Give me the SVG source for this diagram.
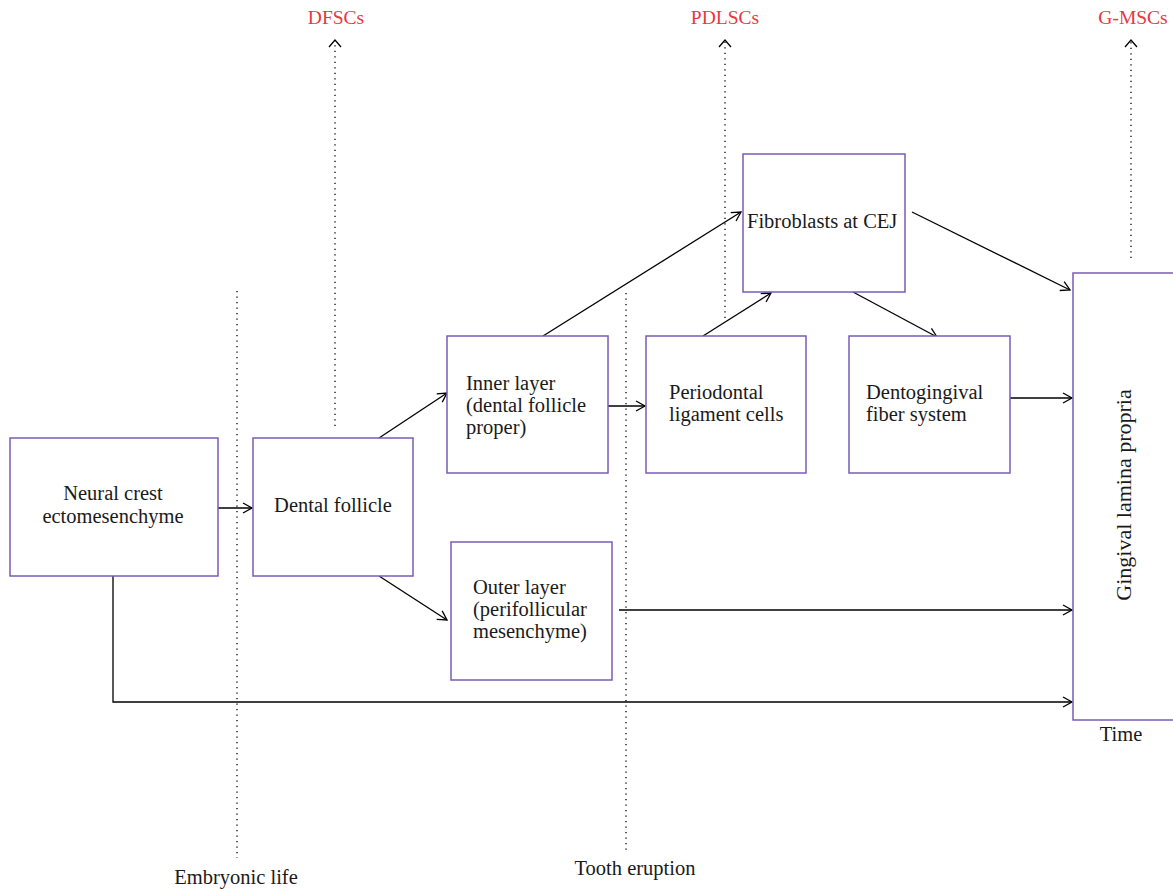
<svg xmlns="http://www.w3.org/2000/svg" width="1173" height="889" viewBox="0 0 1173 889">
<defs>
<marker id="ah" markerWidth="12" markerHeight="12" refX="10" refY="6" orient="auto" markerUnits="userSpaceOnUse">
<path d="M1,1 L10,6 L1,11" fill="none" stroke="#000" stroke-width="1.3"/>
</marker>
</defs>
<style>
.box{fill:#fff;stroke:#7b5bb6;stroke-width:1.5}
.t{font-family:"Liberation Serif",serif;font-size:20.5px;fill:#1a1a1a}
.red{font-family:"Liberation Serif",serif;font-size:19.5px;fill:#e8373d}
.c{fill:none;stroke:#000;stroke-width:1.3}
.d{fill:none;stroke:#000;stroke-width:1.3;stroke-dasharray:1.3 4.2}
</style>
<rect width="1173" height="889" fill="#fff"/>
<g id="timeline">
<line class="d" x1="237" y1="291" x2="237" y2="858"/>
<text class="t" x="236" y="884" text-anchor="middle">Embryonic life</text>
<line class="d" x1="626" y1="293" x2="626" y2="850"/>
<text class="t" x="635" y="875" text-anchor="middle">Tooth eruption</text>
<text class="t" x="1121" y="741" text-anchor="middle">Time</text>
</g>
<g id="stemcells">
<line class="d" x1="335" y1="426" x2="335" y2="42"/>
<path class="c" d="M329,47 L335,40 L341,47"/>
<text class="red" x="336" y="24" text-anchor="middle">DFSCs</text>
<line class="d" x1="725" y1="318" x2="725" y2="42"/>
<path class="c" d="M719,47 L725,40 L731,47"/>
<text class="red" x="725" y="24" text-anchor="middle">PDLSCs</text>
<line class="d" x1="1131" y1="258" x2="1131" y2="42"/>
<path class="c" d="M1125,47 L1131,40 L1137,47"/>
<text class="red" x="1133" y="24" text-anchor="middle">G-MSCs</text>
</g>
<g id="connectors">
<line class="c" x1="218" y1="508" x2="252" y2="508" marker-end="url(#ah)"/>
<line class="c" x1="379" y1="438" x2="447" y2="393" marker-end="url(#ah)"/>
<line class="c" x1="379" y1="576" x2="447" y2="620" marker-end="url(#ah)"/>
<line class="c" x1="608" y1="406" x2="645" y2="406" marker-end="url(#ah)"/>
<line class="c" x1="543" y1="336" x2="741" y2="212" marker-end="url(#ah)"/>
<line class="c" x1="703" y1="336" x2="771" y2="293" marker-end="url(#ah)"/>
<line class="c" x1="853" y1="292" x2="937" y2="337" marker-end="url(#ah)"/>
<line class="c" x1="912" y1="212" x2="1070" y2="290" marker-end="url(#ah)"/>
<line class="c" x1="1010" y1="398" x2="1072" y2="398" marker-end="url(#ah)"/>
<line class="c" x1="619" y1="610" x2="1072" y2="610" marker-end="url(#ah)"/>
<polyline class="c" points="113,576 113,702 1072,702" marker-end="url(#ah)"/>
</g>
<g id="neural">
<rect class="box" x="10" y="438" width="208" height="138"/>
<text class="t" x="113" y="500" text-anchor="middle">Neural crest</text>
<text class="t" x="113" y="523" text-anchor="middle">ectomesenchyme</text>
</g>
<g id="follicle">
<rect class="box" x="253" y="438" width="160" height="138"/>
<text class="t" x="333" y="512" text-anchor="middle">Dental follicle</text>
</g>
<g id="inner">
<rect class="box" x="447" y="336" width="161" height="137"/>
<text class="t" x="466" y="390">Inner layer</text>
<text class="t" x="466" y="412">(dental follicle</text>
<text class="t" x="466" y="434">proper)</text>
</g>
<g id="pdl">
<rect class="box" x="646" y="336" width="160" height="137"/>
<text class="t" x="669" y="399">Periodontal</text>
<text class="t" x="669" y="421">ligament cells</text>
</g>
<g id="dento">
<rect class="box" x="849" y="336" width="161" height="137"/>
<text class="t" x="866" y="399">Dentogingival</text>
<text class="t" x="866" y="421">fiber system</text>
</g>
<g id="fibro">
<rect class="box" x="743" y="154" width="162" height="138"/>
<text class="t" x="747" y="228">Fibroblasts at CEJ</text>
</g>
<g id="outer">
<rect class="box" x="451" y="542" width="161" height="138"/>
<text class="t" x="473" y="594">Outer layer</text>
<text class="t" x="473" y="616">(perifollicular</text>
<text class="t" x="473" y="638">mesenchyme)</text>
</g>
<g id="gingival">
<rect class="box" x="1073" y="273" width="110" height="447"/>
<text class="t" transform="translate(1131,495) rotate(-90)" text-anchor="middle" style="font-size:22px">Gingival lamina propria</text>
</g>
</svg>
